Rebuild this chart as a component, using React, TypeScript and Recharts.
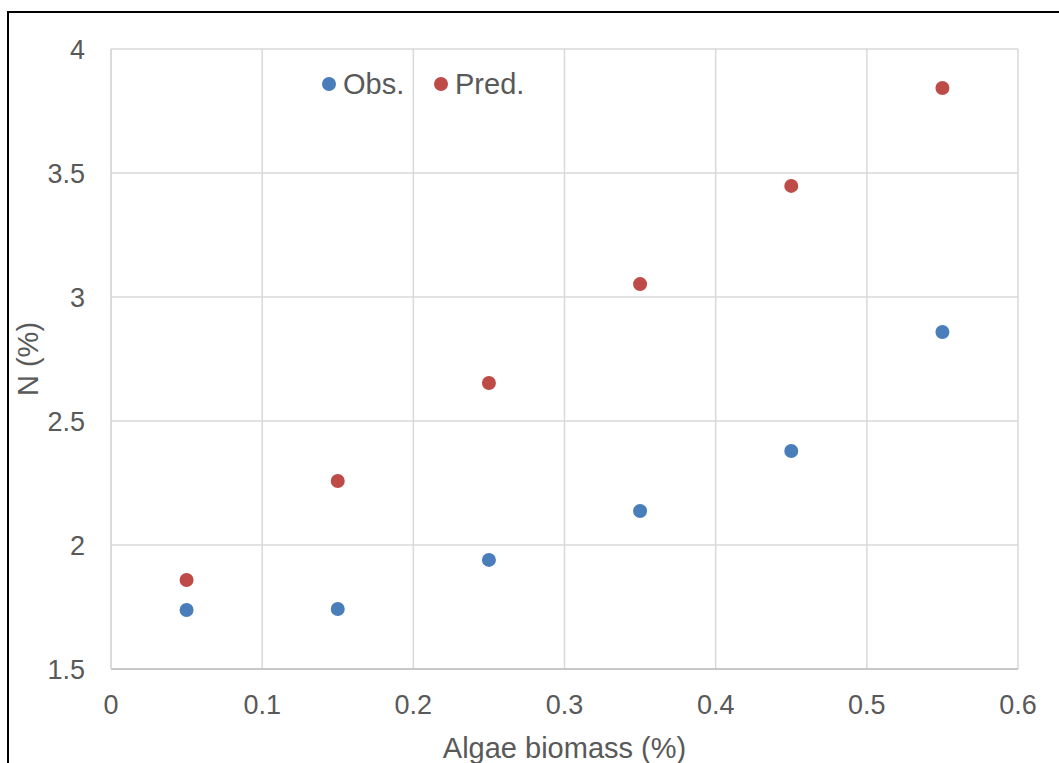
import { ScatterChart, Scatter, XAxis, YAxis, CartesianGrid } from 'recharts';

const biomass = [0.05, 0.15, 0.25, 0.35, 0.45, 0.55];
const obsN = [1.738, 1.742, 1.94, 2.137, 2.379, 2.859];
const predN = [1.859, 2.258, 2.653, 3.052, 3.448, 3.843];
const xTicks = [0, 0.1, 0.2, 0.3, 0.4, 0.5, 0.6];
const yTicks = [1.5, 2, 2.5, 3, 3.5, 4];

const obsData = biomass.map((x, i) => ({ x, y: obsN[i] }));
const predData = biomass.map((x, i) => ({ x, y: predN[i] }));

const FONT = '"Liberation Sans", Arial, sans-serif';
const tickStyle = { fontSize: 27, fill: '#595959', fontFamily: FONT };
const titleStyle = { fontSize: 29, fill: '#595959', fontFamily: FONT };

const BLUE = '#4a7ebb';
const RED = '#be4b48';

const dot = (color: string) => (p: any) => <circle cx={p.cx} cy={p.cy} r={7} fill={color} />;

const marker = (left: number, color: string) => (
  <span style={{ position: 'absolute', left, top: 77, width: 14, height: 14, borderRadius: 7, background: color }} />
);
const label = (left: number, text: string) => (
  <span style={{ position: 'absolute', left, top: 67, height: 34, lineHeight: '34px', fontFamily: FONT, fontSize: 29, color: '#595959' }}>
    {text}
  </span>
);

export default function App() {
  return (
    <div style={{ position: 'absolute', left: 0, top: 0, width: 1059, height: 763, overflow: 'hidden', background: '#fff' }}>
      <div style={{ position: 'absolute', left: 7, top: 11, width: 1100, height: 800, borderTop: '2px solid #000', borderLeft: '2px solid #000' }} />
      <div style={{ position: 'absolute', left: 0, top: 0 }}>
        <ScatterChart width={1059} height={763} margin={{ top: 49, right: 41, left: 11, bottom: 0 }}>
          <CartesianGrid stroke="#d9d9d9" strokeWidth={1.5} horizontalValues={yTicks} verticalValues={xTicks} />
          <XAxis
            type="number"
            dataKey="x"
            domain={[0, 0.6]}
            ticks={xTicks}
            height={94}
            tickLine={false}
            tickSize={0}
            tickMargin={26}
            axisLine={{ stroke: '#bfbfbf', strokeWidth: 1.5 }}
            tick={tickStyle}
            label={{ value: 'Algae biomass (%)', position: 'insideBottom', offset: 5, style: titleStyle }}
          />
          <YAxis
            type="number"
            dataKey="y"
            domain={[1.5, 4]}
            ticks={yTicks}
            width={100}
            tickLine={false}
            tickSize={0}
            tickMargin={26}
            axisLine={{ stroke: '#d9d9d9', strokeWidth: 1.5 }}
            tick={tickStyle}
            label={{ value: 'N (%)', angle: -90, position: 'insideLeft', offset: 17, style: { ...titleStyle, textAnchor: 'middle' } }}
          />
          <Scatter name="Obs." data={obsData} fill={BLUE} shape={dot(BLUE)} isAnimationActive={false} />
          <Scatter name="Pred." data={predData} fill={RED} shape={dot(RED)} isAnimationActive={false} />
        </ScatterChart>
      </div>
      {marker(322, BLUE)}
      {label(343, 'Obs.')}
      {marker(434, RED)}
      {label(455, 'Pred.')}
    </div>
  );
}
